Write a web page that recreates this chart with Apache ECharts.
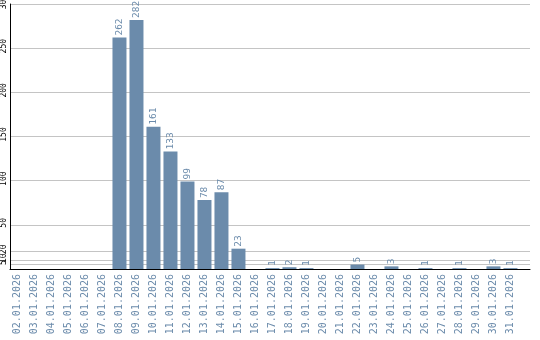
<!DOCTYPE html>
<html>
<head>
<meta charset="utf-8">
<script src="https://cdn.jsdelivr.net/npm/echarts@6/dist/echarts.min.js"></script>
<style>html,body{margin:0;padding:0;background:#fff;}#c{width:540px;height:340px;}</style>
</head>
<body>
<div id="c"></div>
<script>
var categories = ['02.01.2026','03.01.2026','04.01.2026','05.01.2026','06.01.2026','07.01.2026','08.01.2026','09.01.2026','10.01.2026','11.01.2026','12.01.2026','13.01.2026','14.01.2026','15.01.2026','16.01.2026','17.01.2026','18.01.2026','19.01.2026','20.01.2026','21.01.2026','22.01.2026','23.01.2026','24.01.2026','25.01.2026','26.01.2026','27.01.2026','28.01.2026','29.01.2026','30.01.2026','31.01.2026'];
var values = [0,0,0,0,0,0,262,282,161,133,99,78,87,23,0,1,2,1,0,0,5,0,3,0,1,0,1,0,3,1];
var yTicks = [5,20,50,100,150,200,250,300];
var yTicksExtra = [10];

var blue = '#6b8bab';
var mono = 'DejaVu Sans Mono';
var idx = categories.map(function(c,i){return i;});

function yAxisDef(ticks, showLine) {
  return {
    type: 'value', min: 0, max: 300, position: 'left',
    axisLine: {show: showLine, onZero: false, lineStyle: {color: '#000', width: 1}},
    axisTick: {show: false, customValues: ticks},
    splitLine: {show: true, lineStyle: {color: '#c4c4c4', width: 1}},
    axisLabel: {
      customValues: ticks,
      hideOverlap: false,
      rotate: 90, margin: 2, padding: [0, 0, 0, 4],
      color: '#000', fontFamily: mono, fontSize: 8
    }
  };
}

var chart = echarts.init(document.getElementById('c'), null, {renderer:'canvas'});
chart.setOption({
  animation: false,
  backgroundColor: '#fff',
  grid: {left: 10, right: 10, top: 4, bottom: 71, containLabel: false, outerBoundsMode: 'none'},
  xAxis: {
    type: 'value',
    min: -0.44, max: 30.15,
    axisLine: {show: true, onZero: true, lineStyle: {color: '#000', width: 1}},
    axisTick: {show: false, customValues: idx},
    splitLine: {show: false},
    axisLabel: {
      customValues: idx,
      rotate: 90, margin: 5,
      color: blue, fontFamily: mono, fontSize: 10,
      formatter: function(v){ return categories[v] || ''; }
    }
  },
  yAxis: [yAxisDef(yTicksExtra, false), yAxisDef(yTicks, true)],
  series: [{
    type: 'bar',
    yAxisIndex: 1,
    barWidth: 14,
    itemStyle: {color: blue},
    data: values.map(function(v,i){return [i,v];}),
    label: {
      show: true, position: 'top', distance: 2,
      rotate: 90, align: 'left', verticalAlign: 'middle',
      color: blue, fontFamily: mono, fontSize: 9.5,
      formatter: function(p){ return p.value[1] ? String(p.value[1]) : ''; }
    }
  }]
});
</script>
</body>
</html>
